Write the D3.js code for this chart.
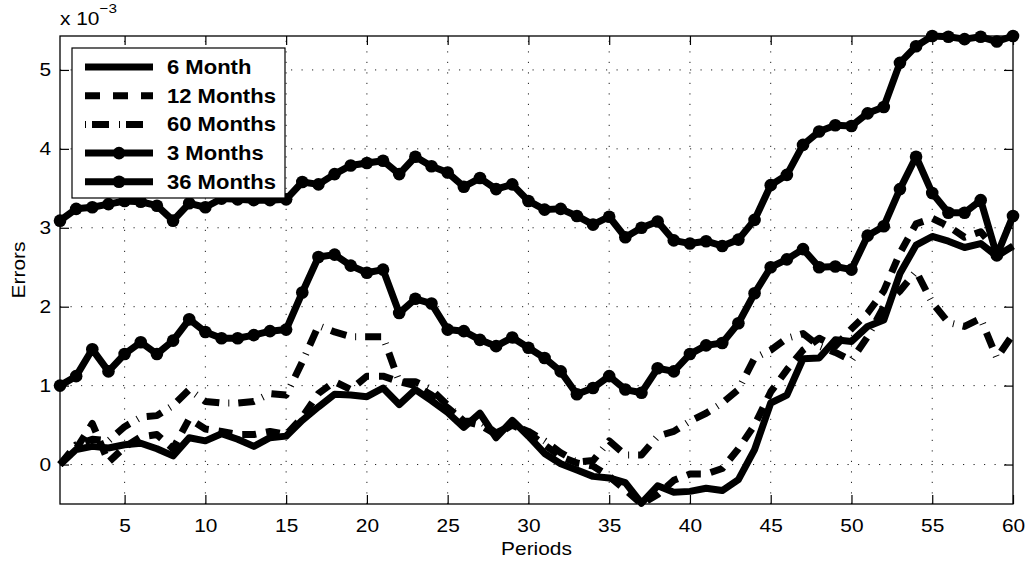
<!DOCTYPE html>
<html>
<head>
<meta charset="utf-8">
<script src="https://cdn.jsdelivr.net/npm/d3@7"></script>
<style>
  html, body { margin: 0; padding: 0; background: #fff; }
  svg { display: block; font-family: "Liberation Sans", Arial, Helvetica, sans-serif; }
</style>
</head>
<body>
<svg id="chart" width="1029" height="567"></svg>
<script>
// Forecast errors (x 10^-3) by period for five horizons
const periods = [1,2,3,4,5,6,7,8,9,10,11,12,13,14,15,16,17,18,19,20,
  21,22,23,24,25,26,27,28,29,30,31,32,33,34,35,36,37,38,39,40,
  41,42,43,44,45,46,47,48,49,50,51,52,53,54,55,56,57,58,59,60];

const month6 = [0.00,0.19,0.23,0.21,0.25,0.27,0.20,0.11,0.34,0.30,
  0.39,0.32,0.23,0.34,0.36,0.56,0.73,0.89,0.88,0.86,
  0.97,0.76,0.95,0.81,0.66,0.47,0.65,0.34,0.56,0.36,
  0.14,0.01,-0.07,-0.15,-0.17,-0.23,-0.49,-0.27,-0.35,-0.34,
  -0.30,-0.33,-0.19,0.19,0.78,0.88,1.34,1.35,1.58,1.56,
  1.75,1.83,2.42,2.78,2.89,2.83,2.75,2.80,2.64,2.77];

const months12 = [0.00,0.20,0.52,0.03,0.22,0.35,0.38,0.20,0.58,0.45,
  0.42,0.38,0.38,0.42,0.38,0.60,0.90,1.05,0.95,1.12,
  1.12,1.05,1.00,0.88,0.72,0.55,0.50,0.38,0.50,0.40,
  0.25,0.10,0.02,-0.02,-0.15,-0.32,-0.50,-0.38,-0.20,-0.12,
  -0.12,-0.05,0.20,0.50,0.92,1.20,1.45,1.60,1.50,1.72,
  1.92,2.20,2.68,3.05,3.12,3.02,2.88,2.95,2.70,2.75];

const months60 = [0.00,0.25,0.32,0.30,0.48,0.60,0.62,0.75,0.95,0.80,
  0.78,0.78,0.80,0.90,0.88,1.30,1.76,1.68,1.62,1.62,
  1.62,1.05,1.05,0.95,0.75,0.55,0.55,0.40,0.50,0.42,
  0.30,0.15,0.03,0.05,0.30,0.12,0.12,0.36,0.42,0.55,
  0.65,0.78,0.95,1.35,1.45,1.60,1.66,1.50,1.42,1.32,
  1.62,2.00,2.20,2.45,2.05,1.80,1.75,1.85,1.35,1.65];

const months3 = [3.09,3.24,3.26,3.30,3.34,3.33,3.28,3.09,3.31,3.26,
  3.37,3.36,3.35,3.35,3.36,3.58,3.55,3.68,3.79,3.82,
  3.85,3.68,3.90,3.78,3.70,3.52,3.63,3.49,3.55,3.34,
  3.23,3.24,3.15,3.04,3.14,2.88,3.00,3.08,2.84,2.80,
  2.83,2.77,2.85,3.10,3.54,3.67,4.05,4.22,4.30,4.29,
  4.45,4.53,5.09,5.30,5.43,5.42,5.39,5.42,5.36,5.43];

const months36 = [1.00,1.12,1.46,1.18,1.40,1.55,1.40,1.57,1.84,1.68,
  1.60,1.60,1.64,1.69,1.71,2.18,2.63,2.66,2.52,2.43,
  2.47,1.92,2.10,2.04,1.71,1.69,1.58,1.50,1.61,1.48,
  1.35,1.18,0.89,0.97,1.12,0.95,0.91,1.22,1.18,1.40,
  1.51,1.54,1.79,2.17,2.50,2.60,2.73,2.50,2.51,2.47,
  2.90,3.02,3.49,3.90,3.44,3.19,3.19,3.35,2.65,3.15];

const seriesNames = ["6 Month", "12 Months", "60 Months", "3 Months", "36 Months"];
const xTicks = [5,10,15,20,25,30,35,40,45,50,55,60];
const yTicks = [0,1,2,3,4,5];
const yLimits = [-0.5, 5.43];

// Line styles: solid, dashed, dash-dot, solid with markers
const styles = [
  { dash: null, legendDash: null, marker: false },
  { dash: "14,10", legendDash: "15,13", marker: false },
  { dash: "16,9,1,9", legendDash: "1,6,17,10", marker: false },
  { dash: null, legendDash: null, marker: true },
  { dash: null, legendDash: null, marker: true }
];
const seriesValues = [month6, months12, months60, months3, months36];

const svg = d3.select("#chart");
const L = 60, R = 1013, T = 36, B = 504;
const SX = 1.13;      // horizontal widening of the Helvetica-style text
const fs = 18.5;      // axis text size
const lineW = 7;
const markR = 6.3;

const x = d3.scaleLinear().domain([1, 60]).range([L, R]);
const y = d3.scaleLinear().domain(yLimits).range([B, T]);

svg.append("rect").attr("width", 1029).attr("height", 567).attr("fill", "#fff");

// dotted grid
const grid = svg.append("g").attr("stroke", "#222").attr("stroke-width", 1)
  .attr("stroke-dasharray", "1.2,9.3");
grid.selectAll("line.v").data(xTicks.filter(d => d < 60)).join("line").attr("class", "v")
  .attr("x1", d => x(d)).attr("x2", d => x(d)).attr("y1", B).attr("y2", T);
grid.selectAll("line.h").data(yTicks).join("line").attr("class", "h")
  .attr("y1", d => y(d)).attr("y2", d => y(d)).attr("x1", L).attr("x2", R);

// axes with inward ticks on all four sides
const axBottom = svg.append("g").attr("transform", `translate(0,${B})`)
  .call(d3.axisBottom(x).tickValues(xTicks).tickSize(-9).tickPadding(15).tickFormat(d3.format("d")));
const axLeft = svg.append("g").attr("transform", `translate(${L},0)`)
  .call(d3.axisLeft(y).tickValues(yTicks).tickSize(-9).tickPadding(9).tickFormat(d3.format("d")));
const axTop = svg.append("g").attr("transform", `translate(0,${T})`)
  .call(d3.axisTop(x).tickValues(xTicks).tickSize(-9).tickFormat(""));
const axRight = svg.append("g").attr("transform", `translate(${R},0)`)
  .call(d3.axisRight(y).tickValues(yTicks).tickSize(-9).tickFormat(""));
[axBottom, axLeft, axTop, axRight].forEach(g => {
  g.select(".domain").remove();
  g.selectAll(".tick line").attr("stroke", "#000").attr("stroke-width", 1.2);
  g.selectAll("text").attr("font-size", fs).attr("fill", "#000")
    .attr("font-family", "'Liberation Sans', Arial, Helvetica, sans-serif");
});
axBottom.selectAll(".tick text").attr("transform", `scale(${SX},1)`);
axLeft.selectAll(".tick text").attr("x", -9 / SX).attr("transform", `scale(${SX},1)`);

svg.append("rect").attr("x", L).attr("y", T).attr("width", R - L).attr("height", B - T)
  .attr("fill", "none").attr("stroke", "#000").attr("stroke-width", 1.3);

// series
const line = d3.line().x((d, i) => x(periods[i])).y(d => y(d));
const plot = svg.append("g");
seriesValues.forEach((vals, k) => {
  const st = styles[k];
  plot.append("path").datum(vals)
    .attr("d", line)
    .attr("fill", "none")
    .attr("stroke", "#000")
    .attr("stroke-width", lineW)
    .attr("stroke-linejoin", "round")
    .attr("stroke-linecap", "butt")
    .attr("stroke-dasharray", st.dash);
  if (st.marker) {
    plot.append("g").selectAll("circle").data(vals).join("circle")
      .attr("cx", (d, i) => x(periods[i]))
      .attr("cy", d => y(d))
      .attr("r", markR)
      .attr("fill", "#000");
  }
});

// text widened about its anchor point
function wideText(parent, px, py, size) {
  return parent.append("g").attr("transform", `translate(${px},${py}) scale(${SX},1)`)
    .append("text").attr("font-size", size).attr("fill", "#000");
}

// exponent label
const ex = wideText(svg, 60, 25, fs);
ex.append("tspan").text("x 10");
ex.append("tspan").attr("dy", -12).attr("font-size", 13.5).text("\u22123");

// axis titles
wideText(svg, (L + R) / 2, 555, fs).attr("text-anchor", "middle").text("Periods");
svg.append("g").attr("transform", `translate(25,${(T + B) / 2}) rotate(-90) scale(${SX},1)`)
  .append("text").attr("text-anchor", "middle").attr("font-size", fs).attr("fill", "#000").text("Errors");

// legend
const lg = svg.append("g");
lg.append("rect").attr("x", 72).attr("y", 48).attr("width", 213).attr("height", 150)
  .attr("fill", "#fff").attr("stroke", "#000").attr("stroke-width", 1.2);
seriesNames.forEach((name, k) => {
  const cy = 67 + k * 28.7;
  const st = styles[k];
  lg.append("line").attr("x1", 85).attr("x2", 153).attr("y1", cy).attr("y2", cy)
    .attr("stroke", "#000").attr("stroke-width", lineW)
    .attr("stroke-dasharray", st.legendDash);
  if (st.marker) {
    lg.append("circle").attr("cx", 119).attr("cy", cy).attr("r", markR).attr("fill", "#000");
  }
  wideText(lg, 167, cy + 7, 19.5).attr("font-weight", "bold").text(name);
});
</script>
</body>
</html>
